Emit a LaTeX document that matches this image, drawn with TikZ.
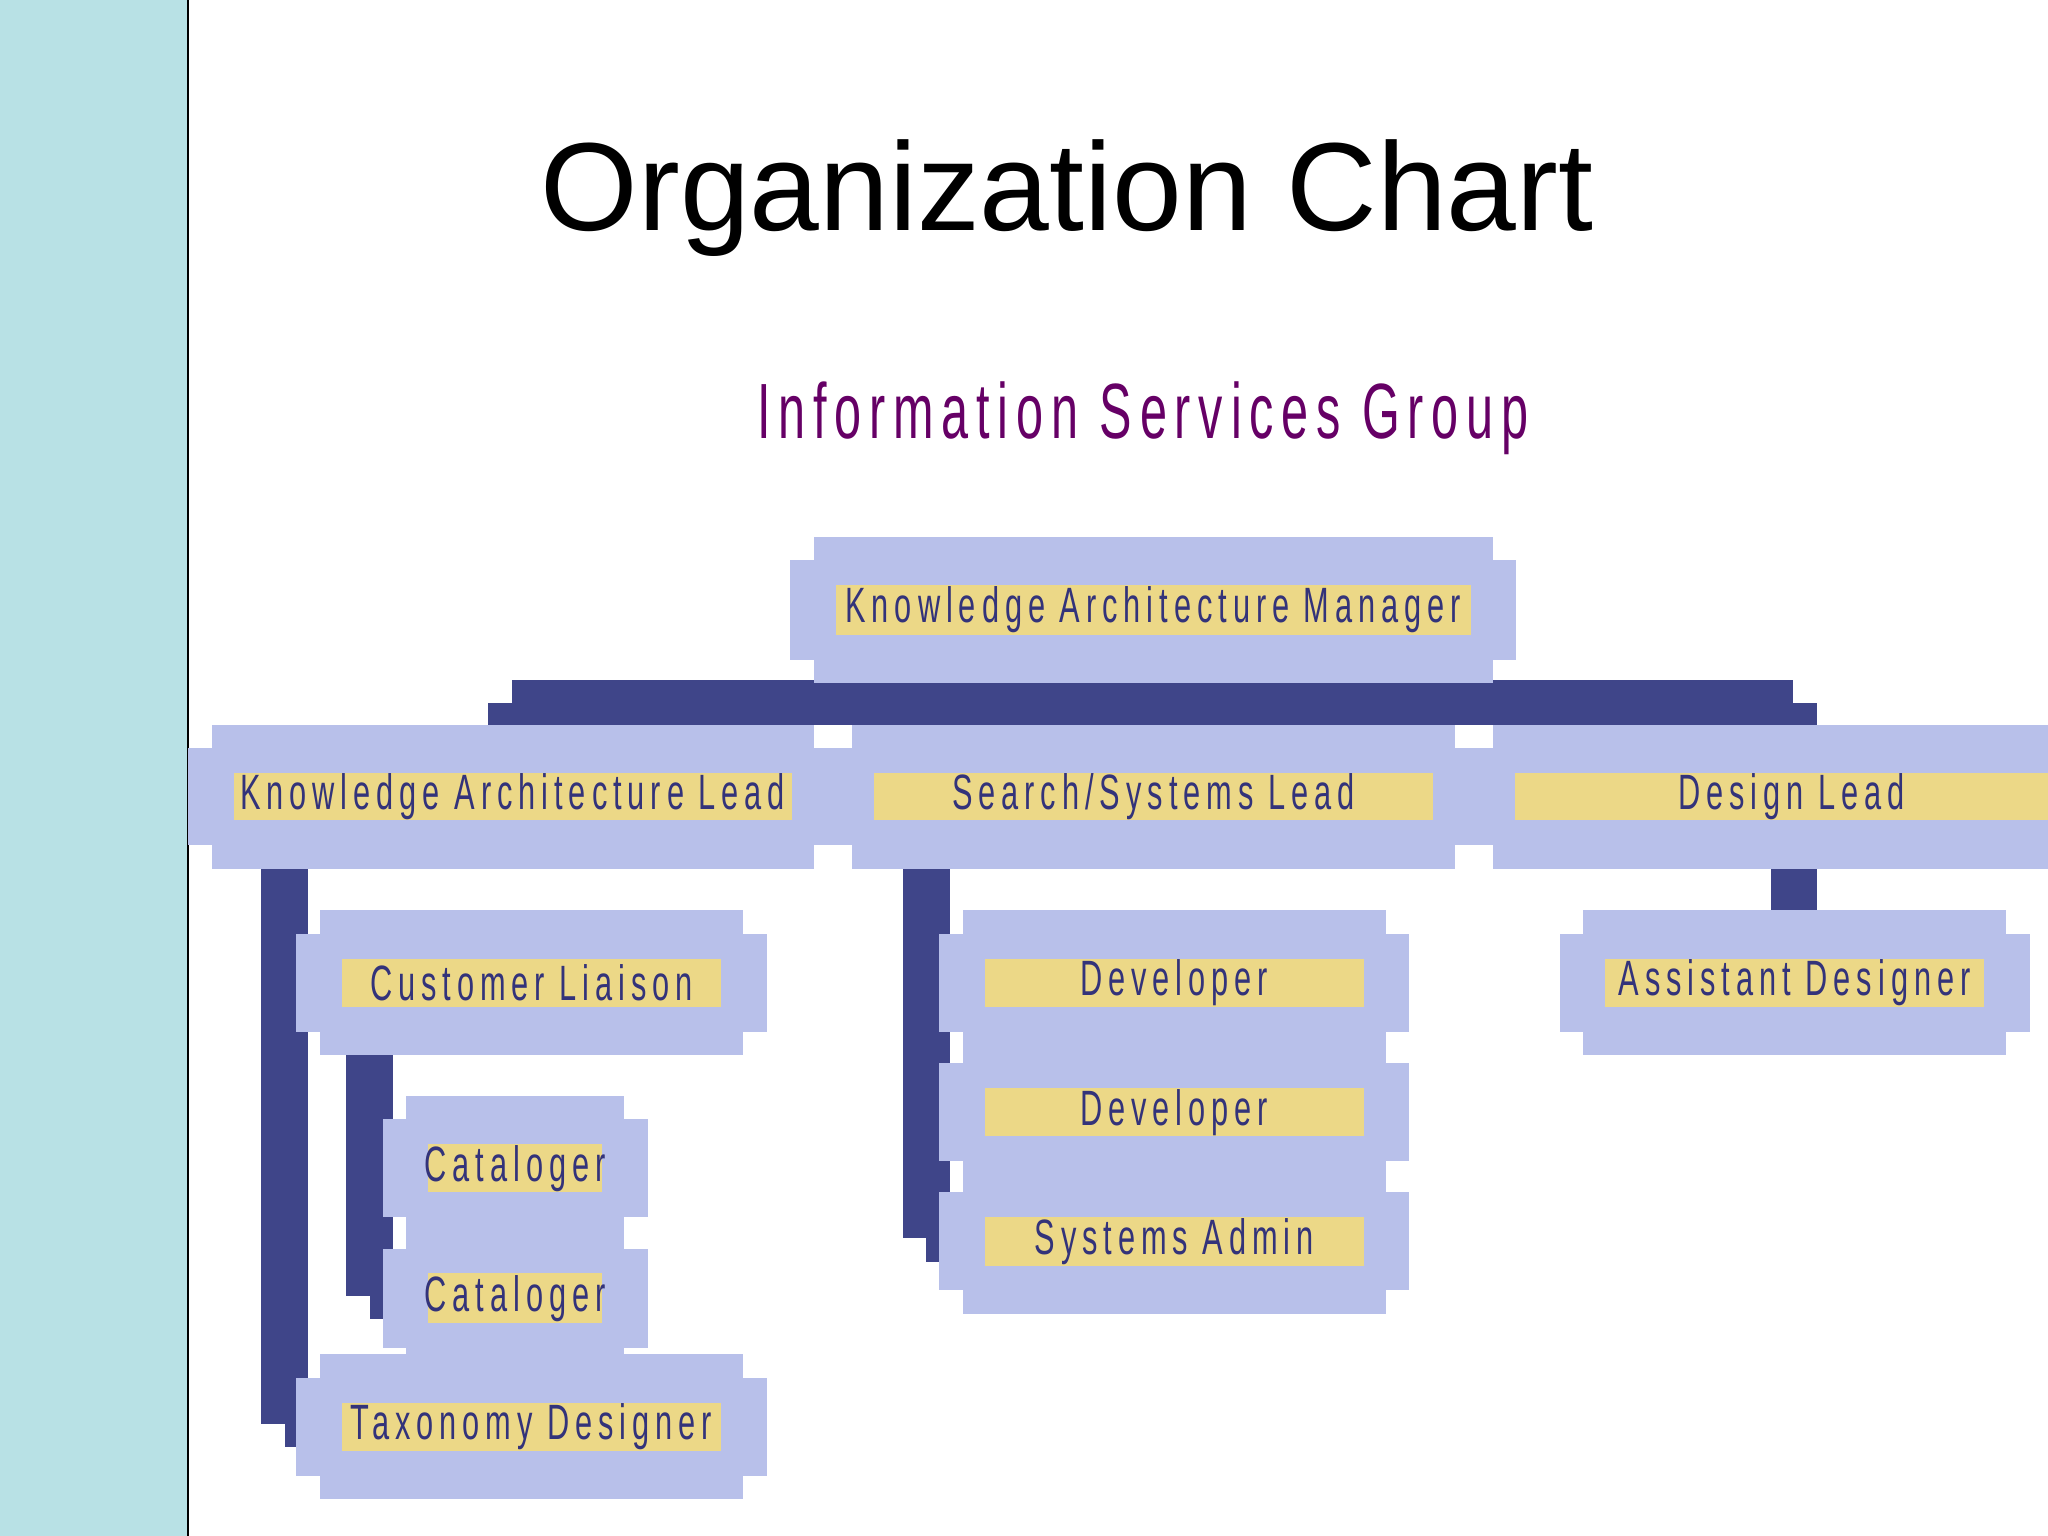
\documentclass[tikz,border=0pt]{standalone}
\usepackage{fontspec}
\setmainfont{Liberation Sans}
\newfontfamily\nar[FakeStretch=0.62,LetterSpace=12]{Liberation Sans}
\newfontfamily\narw[FakeStretch=0.62,LetterSpace=10]{Liberation Sans}
\definecolor{lb}{HTML}{B8C0EA}
\definecolor{yl}{HTML}{ECD887}
\definecolor{nv}{HTML}{3F4589}
\definecolor{tx}{HTML}{33337A}
\definecolor{side}{HTML}{B8E1E5}
\definecolor{pu}{HTML}{660066}
\newcommand{\orgbox}[6]{%
 \pgfmathsetmacro{\xa}{#2-18}\pgfmathsetmacro{\xb}{#4+18}%
 \pgfmathsetmacro{\ya}{#3+18}\pgfmathsetmacro{\yb}{#5-18}%
 \pgfmathsetmacro{\xc}{#2+17}\pgfmathsetmacro{\xd}{#4-17}%
 \pgfmathsetmacro{\yc}{#3+37}\pgfmathsetmacro{\yd}{#5-37}%
 \fill[lb] (#2,#3) rectangle (#4,#5);
 \fill[lb] (\xa,\ya) rectangle (\xb,\yb);
 \fill[yl] (\xc,\yc) rectangle (\xd,\yd);
 \node[lbl] (#1) at ({(\xc+\xd)/2},{(\yc+\yd)/2}) {#6};}
\tikzset{lbl/.style={inner sep=0pt,text=tx,font=\nar\fontsize{19}{20}\selectfont}}
\begin{document}
\begin{tikzpicture}[x=0.5pt,y=-0.5pt]
\useasboundingbox (0,0) rectangle (1568,1176);
\fill[white] (0,0) rectangle (1568,1176);
\fill[side] (0,0) rectangle (144,1176);
\draw[black,line width=0.8pt] (144,0) -- (144,1176);
\node[font=\fontsize{48}{54}\selectfont] (title) at (817,152) {Organization Chart};
\node[text=pu,font=\narw\fontsize{30}{32}\selectfont] (sub) at (875,320) {Information Services Group};
% connectors
\fill[nv] (374,538) rectangle (1391,555);
\fill[nv] (392,521) rectangle (1373,540);
\fill[nv] (200,665) rectangle (236,1090);
\fill[nv] (218,1090) rectangle (236,1108);
\fill[nv] (265,808) rectangle (301,992);
\fill[nv] (283,992) rectangle (301,1010);
\fill[nv] (691,665) rectangle (727,948);
\fill[nv] (709,948) rectangle (727,966);
\fill[nv] (1356,665) rectangle (1391,697);
% boxes
\orgbox{mgr}{623}{411}{1143}{523}{Knowledge Architecture Manager}
\orgbox{kal}{162}{555}{623}{665}{Knowledge Architecture Lead}
\orgbox{ssl}{652}{555}{1114}{665}{Search/Systems Lead}
\orgbox{dl}{1143}{555}{1600}{665}{Design Lead}
\orgbox{cl}{245}{697}{569}{808}{Customer Liaison}
\orgbox{cat1}{311}{839}{478}{950}{Cataloger}
\orgbox{cat2}{311}{938}{478}{1050}{Cataloger}
\orgbox{td}{245}{1037}{569}{1148}{Taxonomy Designer}
\orgbox{dev1}{737}{697}{1061}{808}{Developer}
\orgbox{dev2}{737}{796}{1061}{907}{Developer}
\orgbox{sa}{737}{895}{1061}{1006}{Systems Admin}
\orgbox{ad}{1212}{697}{1536}{808}{Assistant Designer}
\end{tikzpicture}
\end{document}
